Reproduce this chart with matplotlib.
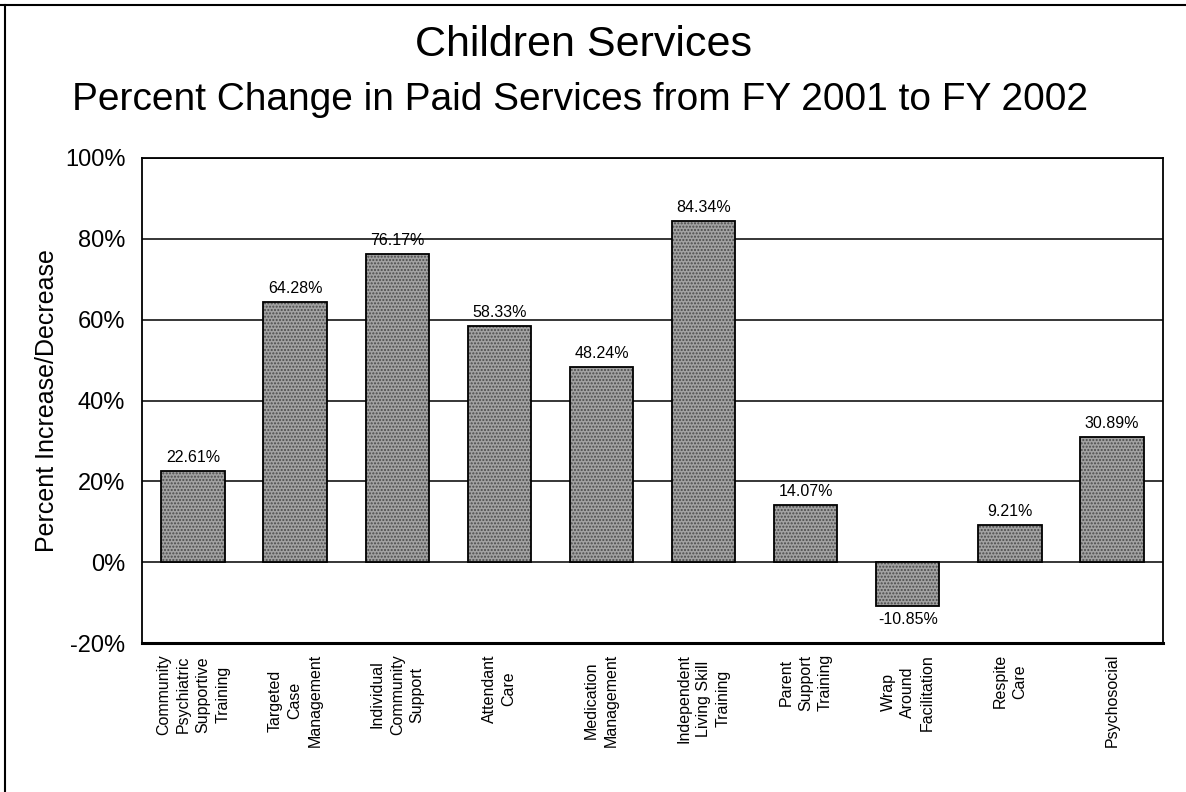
import numpy as np
import matplotlib.pyplot as plt
from matplotlib.lines import Line2D

# children services, % change FY2001 -> FY2002
categories = ["Community\nPsychiatric\nSupportive\nTraining",
              "Targeted\nCase\nManagement",
              "Individual\nCommunity\nSupport",
              "Attendant\nCare",
              "Medication\nManagement",
              "Independent\nLiving Skill\nTraining",
              "Parent\nSupport\nTraining",
              "Wrap\nAround\nFacilitation",
              "Respite\nCare",
              "Psychosocial"]
pct_change = [22.61, 64.28, 76.17, 58.33, 48.24, 84.34, 14.07, -10.85, 9.21, 30.89]
yticks = [-20, 0, 20, 40, 60, 80, 100]

plt.rcParams['font.family'] = ['Liberation Sans', 'DejaVu Sans']
plt.rcParams['hatch.linewidth'] = 1.0

fig = plt.figure(figsize=(11.86, 7.92), dpi=100)
ax = fig.add_axes([142/1186, 1-643/792, (1163-142)/1186, (643-158)/792])

x = np.arange(len(categories))
# speckled fill, then black outline on top
ax.bar(x, pct_change, width=0.62, color='#a2a2a2', edgecolor='#4a4a4a', hatch='.....',
       linewidth=0, zorder=3)
ax.bar(x, pct_change, width=0.62, fill=False, edgecolor='black', linewidth=1.3, zorder=4)

for xi, v in zip(x, pct_change):
    if v >= 0:
        ax.text(xi, v + 1.5, "%.2f%%" % v, ha='center', va='bottom', fontsize=11.5, zorder=5)
    else:
        ax.text(xi, v - 1.5, "%.2f%%" % v, ha='center', va='top', fontsize=11.5, zorder=5)

ax.set_ylim(-20, 100)
ax.set_xlim(-0.5, len(categories) - 0.5)
ax.set_yticks(yticks)
ax.set_yticklabels(["%d%%" % t for t in yticks], fontsize=17)
ax.yaxis.grid(True, color='black', linewidth=1.1, zorder=1)
ax.set_xticks(x)
ax.set_xticklabels(categories, rotation=90, fontsize=11.5, ha='center', va='top',
                   multialignment='center', linespacing=1.4)
ax.tick_params(axis='y', length=0, pad=12)
ax.tick_params(axis='x', length=0, pad=8)
for s in ax.spines.values():
    s.set_linewidth(1.3)
ax.spines['bottom'].set_linewidth(2.2)
ax.set_ylabel("Percent Increase/Decrease", fontsize=18, labelpad=4)

fig.text(0.492, 1-45/792, "Children Services", ha='center', va='center', fontsize=31)
fig.text(0.489, 1-100/792, "Percent Change in Paid Services from FY 2001 to FY 2002",
         ha='center', va='center', fontsize=28)

# scanned page frame, top and left edges
fig.add_artist(Line2D([0, 1], [1-5/792, 1-5/792], transform=fig.transFigure, color='black', linewidth=1.5))
fig.add_artist(Line2D([5/1186, 5/1186], [0, 1-5/792], transform=fig.transFigure, color='black', linewidth=1.5))

fig.savefig("out.png", dpi=100)
